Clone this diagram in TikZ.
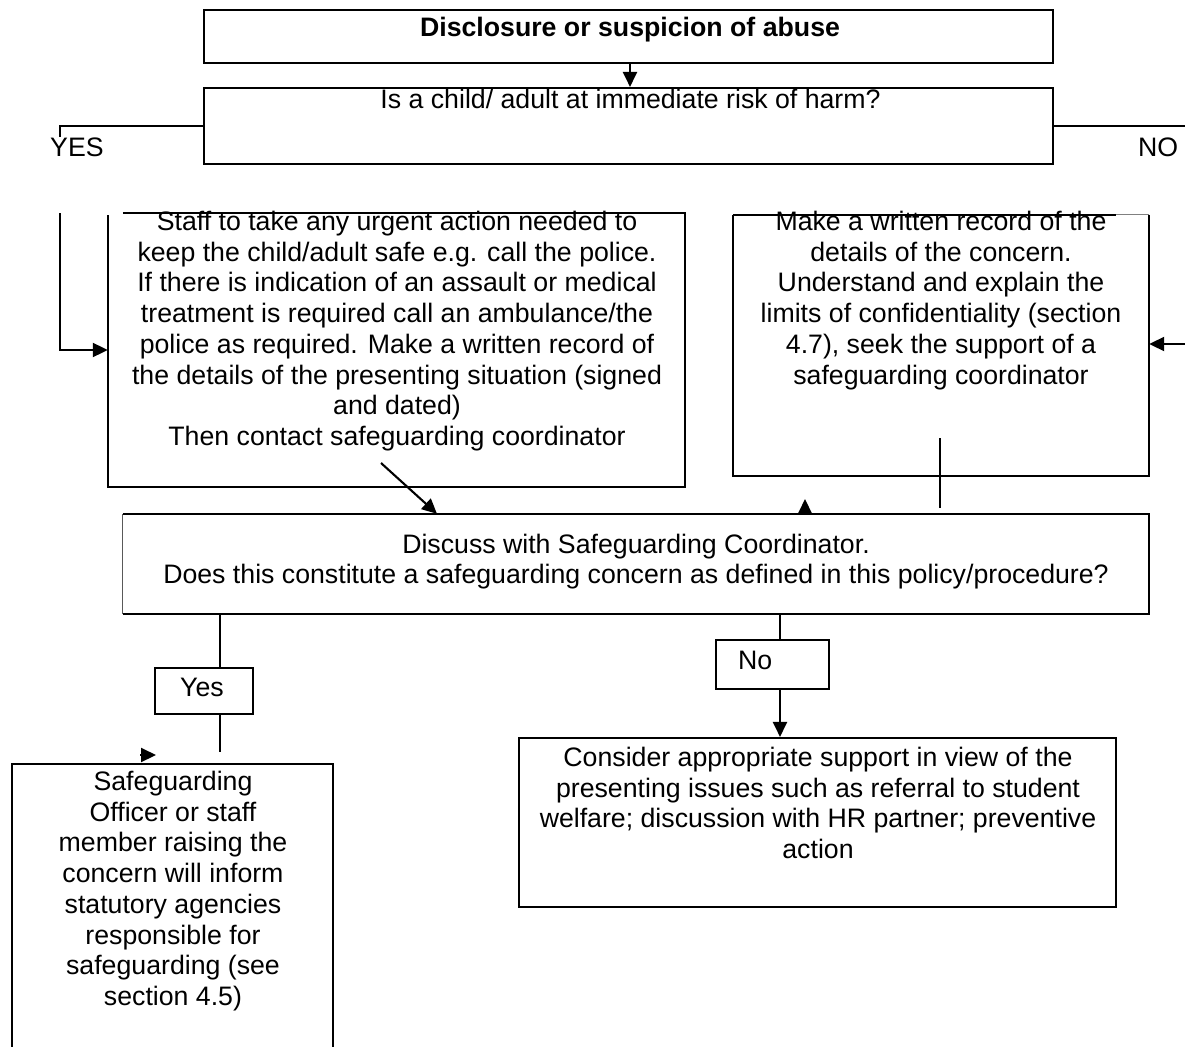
\documentclass[tikz,border=0pt]{standalone}
\usepackage{fontspec}
\setmainfont{Liberation Sans}
\usetikzlibrary{arrows.meta}
\begin{document}
\begin{tikzpicture}[x=1pt,y=-1pt,
  box/.style={draw, line width=2.1pt, inner sep=0pt},
  openbox/.style={draw=none, inner sep=0pt},
  txt/.style={inner sep=0pt, align=center, font=\fontsize{26.7}{30.7}\selectfont},
  conn/.style={line width=2.1pt},
  arr/.style={line width=2.1pt, -{Triangle[length=15pt,width=14pt]}}]
\clip (0,0) rectangle (1185,1046);
\fill[white] (0,0) rectangle (1185,1046);

% boxes
\node[box, minimum width=849pt, minimum height=53pt] (title) at (628.5,36.5) {};
\node[box, minimum width=849pt, minimum height=76pt] (question) at (628.5,126) {};
\node[openbox, minimum width=577pt, minimum height=274pt] (staff) at (396.5,350) {};
\draw[conn] ([xshift=15pt]staff.north west) -- (staff.north east) -- (staff.south east) -- (staff.south west) -- ([yshift=-2pt]staff.north west);
\node[openbox, minimum width=416pt, minimum height=261pt] (record) at (941,345.5) {};
\draw[conn] (record.north west) -- ([xshift=-33pt]record.north east);
\draw[line width=0.8pt, gray] ([xshift=-33pt]record.north east) -- (record.north east);
\draw[conn] (record.north east) -- (record.south east) -- (record.south west) -- (record.north west);
\node[openbox, minimum width=1026pt, minimum height=100pt] (discuss) at (636,564) {};
\draw[conn] (discuss.north west) -- (discuss.north east) -- (discuss.south east) -- (discuss.south west);
\draw[line width=1pt, gray!70!black] (discuss.south west) -- (discuss.north west);
\node[box, minimum width=98pt, minimum height=46pt] (yesbox) at (204,691) {};
\node[box, minimum width=113pt, minimum height=49pt] (nobox) at (772.5,664.5) {};
\node[box, minimum width=597pt, minimum height=169pt] (consider) at (817.5,822.5) {};
\node[openbox, minimum width=321pt, minimum height=320pt] (safe) at (172.5,924) {};
\draw[conn] (safe.south west) -- (safe.north west) -- (safe.north east) -- (safe.south east);

% texts
\node[txt, font=\fontsize{26.7}{30.7}\selectfont\bfseries, anchor=base] (titletxt) at (630,37) {Disclosure or suspicion of abuse};
\node[txt, anchor=base] (qtxt) at (630.5,109) {Is a child/ adult at immediate risk of harm?};
\node[txt, anchor=base west] (yestxt) at (50,156.5) {YES};
\node[txt, anchor=base west] (notxt) at (1138,156.5) {NO};
\node[txt, anchor=north] (stafftxt) at (397,211) {Staff to take any urgent action needed to\\keep the child/adult safe e.g. call the police.\\If there is indication of an assault or medical\\treatment is required call an ambulance/the\\police as required. Make a written record of\\the details of the presenting situation (signed\\and dated)\\Then contact safeguarding coordinator};
\node[txt, anchor=north] (recordtxt) at (941,211) {Make a written record of the\\details of the concern.\\Understand and explain the\\limits of confidentiality (section\\4.7), seek the support of a\\safeguarding coordinator};
\node[txt, anchor=north] (discusstxt) at (636,533.5) {Discuss with Safeguarding Coordinator.\\Does this constitute a safeguarding concern as defined in this policy/procedure?};
\node[txt, anchor=base] (yeslbl) at (202,696.5) {Yes};
\node[txt, anchor=base west] (nolbl) at (738,669.5) {No};
\node[txt, anchor=north] (considertxt) at (818,747) {Consider appropriate support in view of the\\presenting issues such as referral to student\\welfare; discussion with HR partner; preventive\\action};
\node[txt, anchor=north] (safetxt) at (173,771) {Safeguarding\\Officer or staff\\member raising the\\concern will inform\\statutory agencies\\responsible for\\safeguarding (see\\section 4.5)};

% helper coordinates
\coordinate (yesA) at (60,137);
\coordinate (yesB) at (60,213);
\coordinate (noA) at (1185,126);
\coordinate (noB) at (1185,344);
\coordinate (diagS) at (381,463);
\coordinate (upx) at (805,0);
\coordinate (upT) at (805,499);
\coordinate (vA) at (940,438);
\coordinate (vB) at (940,508);
\coordinate (yx) at (220,0);
\coordinate (yesEnd) at (220,752);
\coordinate (nx) at (780,0);
\coordinate (rhS) at (140,755);
\coordinate (rhT) at (156,755);

% connectors
\draw[arr] (title.south -| titletxt) -- (question.north -| titletxt);
\draw[conn] (question.west) -- (question.west -| yesA) -- (yesA);
\draw[arr] (yesB) -- (yesB |- staff.west) -- (staff.west);
\draw[conn] (question.east) -- (question.east -| noA);
\draw[arr] (noB) -- (noB -| record.east);
\draw[arr] (diagS) -- (discuss.north -| 437,0);
\draw[arr] (discuss.north -| upx) -- (upT);
\draw[conn] (vA) -- (vB);
\draw[conn] (discuss.south -| yx) -- (yesbox.north -| yx);
\draw[conn] (yesbox.south -| yx) -- (yesEnd);
\draw[arr] (rhS) -- (rhT);
\draw[conn] (discuss.south -| nx) -- (nobox.north -| nx);
\draw[arr] (nobox.south -| nx) -- (consider.north -| nx);
\end{tikzpicture}
\end{document}
